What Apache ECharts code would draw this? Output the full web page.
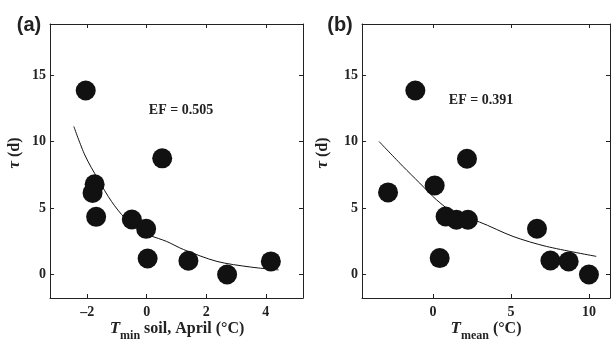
<!DOCTYPE html>
<html><head><meta charset="utf-8">
<script src="https://cdn.jsdelivr.net/npm/echarts@6/dist/echarts.min.js"></script>
<style>html,body{margin:0;padding:0;background:#fff}#c{width:611px;height:340px}</style>
</head><body><div id="c"></div>
<script>
// Panel (a): T_min soil, April vs tau
const ptsA_x = [-2.05, -1.75, -1.82, -1.70, -0.50, -0.02, 0.03, 0.52, 1.40, 2.70, 4.17];
const ptsA_y = [13.85, 6.80, 6.15, 4.35, 4.15, 3.45, 1.22, 8.75, 1.05, 0.02, 1.00];
const fitA_x = [-2.45, -2.08, -1.63, -1.18, -0.73, -0.17, 0.11, 0.67, 1.23, 2.36, 3.48, 4.43];
const fitA_y = [11.15, 9.00, 7.15, 5.50, 4.25, 3.26, 2.95, 2.50, 1.90, 1.00, 0.58, 0.36];
// Panel (b): T_mean vs tau
const ptsB_x = [-1.13, -2.88, 0.11, 0.81, 1.50, 2.24, 0.43, 2.18, 6.67, 7.53, 8.70, 10.00];
const ptsB_y = [13.85, 6.19, 6.71, 4.38, 4.13, 4.13, 1.25, 8.72, 3.46, 1.07, 1.00, 0.02];
const fitB_x = [-3.46, -1.92, -0.85, 0.22, 1.50, 2.99, 5.13, 7.27, 10.47];
const fitB_y = [10.02, 8.14, 6.89, 5.64, 4.51, 3.96, 2.88, 2.13, 1.38];
const yTicks = [0, 5, 10, 15];
const xTicksA = [-2, 0, 2, 4];
const xTicksB = [0, 5, 10];

const zip = (a, b) => a.map((v, i) => [v, b[i]]);
const serif = '"Liberation Serif", "Times New Roman", serif';
const labelStyle = {color: '#222', fontFamily: serif, fontWeight: 'bold', fontSize: 14,
  formatter: v => String(v).replace('-', '\u2013')};
const lineStyle = {color: '#222', width: 1};

function xAx(gi, min, max, ticks, pos, showLabel) {
  return {type: 'value', gridIndex: gi, min, max, position: pos,
    axisLine: {show: true, onZero: false, lineStyle},
    axisTick: {show: true, inside: true, length: 4, lineStyle, customValues: ticks},
    axisLabel: Object.assign({show: showLabel, margin: 7, customValues: ticks}, labelStyle),
    splitLine: {show: false}};
}
function yAx(gi, pos, showLabel) {
  return {type: 'value', gridIndex: gi, min: -1.75, max: 18.85, position: pos,
    axisLine: {show: true, onZero: false, lineStyle},
    axisTick: {show: true, inside: true, length: 4, lineStyle, customValues: yTicks},
    axisLabel: Object.assign({show: showLabel, margin: 4, customValues: yTicks}, labelStyle),
    splitLine: {show: false}};
}

const chart = echarts.init(document.getElementById('c'));
const rich = {
  i: {fontFamily: serif, fontWeight: 'bold', fontStyle: 'italic', fontSize: 17, fill: '#222', lineHeight: 20, verticalAlign: 'bottom'},
  s: {fontFamily: serif, fontWeight: 'bold', fontSize: 12, fill: '#222', lineHeight: 20, verticalAlign: 'bottom', padding: [0, 0, -5, 0]},
  n: {fontFamily: serif, fontWeight: 'bold', fontSize: 16, fill: '#222', lineHeight: 20, verticalAlign: 'bottom'}
};
function txt(x, y, text, extra) {
  return {type: 'text', x, y, style: Object.assign({text, align: 'center', verticalAlign: 'middle', fill: '#222'}, extra)};
}
chart.setOption({
  animation: false,
  grid: [
    {left: 50, top: 24, width: 253, height: 274},
    {left: 362, top: 24, width: 248, height: 274}
  ],
  xAxis: [
    xAx(0, -3.25, 5.25, xTicksA, 'bottom', true),
    xAx(0, -3.25, 5.25, xTicksA, 'top', false),
    xAx(1, -4.55, 11.35, xTicksB, 'bottom', true),
    xAx(1, -4.55, 11.35, xTicksB, 'top', false)
  ],
  yAxis: [
    yAx(0, 'left', true), yAx(0, 'right', false),
    yAx(1, 'left', true), yAx(1, 'right', false)
  ],
  series: [
    {type: 'line', xAxisIndex: 0, yAxisIndex: 0, data: zip(fitA_x, fitA_y), symbol: 'none', smooth: 0.3,
     lineStyle: {color: '#111', width: 1}, z: 3},
    {type: 'scatter', xAxisIndex: 0, yAxisIndex: 0, data: zip(ptsA_x, ptsA_y), symbolSize: 20,
     itemStyle: {color: '#111', opacity: 1}, z: 2},
    {type: 'line', xAxisIndex: 2, yAxisIndex: 2, data: zip(fitB_x, fitB_y), symbol: 'none', smooth: 0.3,
     lineStyle: {color: '#111', width: 1}, z: 3},
    {type: 'scatter', xAxisIndex: 2, yAxisIndex: 2, data: zip(ptsB_x, ptsB_y), symbolSize: 20,
     itemStyle: {color: '#111', opacity: 1}, z: 2}
  ],
  graphic: [
    txt(29, 25, '(a)', {font: 'bold 20px "Liberation Sans", Arial, sans-serif'}),
    txt(340, 25, '(b)', {font: 'bold 20px "Liberation Sans", Arial, sans-serif'}),
    txt(181, 110, 'EF = 0.505', {font: 'bold 14px ' + serif}),
    txt(481, 100, 'EF = 0.391', {font: 'bold 14px ' + serif}),
    txt(177, 327, '{i|T}{s|min}{n| soil, April (°C)}', {rich}),
    txt(486, 327, '{i|T}{s|mean}{n| (°C)}', {rich}),
    {type: 'text', x: 13, y: 153, rotation: Math.PI / 2,
     style: {text: '{i|τ}{n| (d)}', rich, align: 'center', verticalAlign: 'middle'}},
    {type: 'text', x: 321, y: 153, rotation: Math.PI / 2,
     style: {text: '{i|τ}{n| (d)}', rich, align: 'center', verticalAlign: 'middle'}}
  ]
});
</script></body></html>
